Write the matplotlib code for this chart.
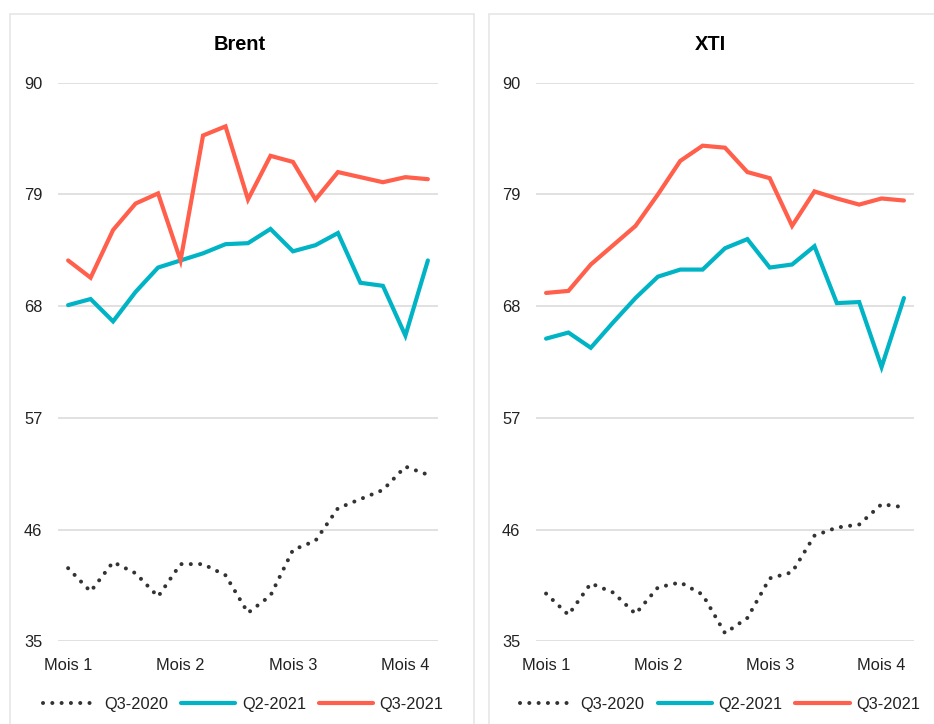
import matplotlib
matplotlib.use("Agg")
import matplotlib.pyplot as plt
from matplotlib.patches import Rectangle

plt.rcParams['font.family'] = ['Liberation Sans', 'DejaVu Sans']

# ---- data ----
months = ["Mois 1", "Mois 2", "Mois 3", "Mois 4"]
month_idx = [0, 5, 10, 15]
y_ticks = [35, 46, 57, 68, 79, 90]
series_names = ["Q3-2020", "Q2-2021", "Q3-2021"]

brent_q3_2020 = [42.2, 39.9, 42.8, 41.7, 39.4, 42.6, 42.6, 41.5, 37.8, 39.5,
                 44.0, 44.9, 48.1, 49.0, 49.9, 52.2, 51.4]
brent_q2_2021 = [68.1, 68.7, 66.5, 69.4, 71.8, 72.5, 73.2, 74.1, 74.2, 75.6,
                 73.4, 74.0, 75.2, 70.3, 70.0, 65.1, 72.5]
brent_q3_2021 = [72.5, 70.8, 75.5, 78.1, 79.1, 72.5, 84.8, 85.7, 78.5, 82.8,
                 82.2, 78.5, 81.2, 80.7, 80.2, 80.7, 80.5]

xti_q3_2020 = [39.7, 37.6, 40.7, 39.8, 37.7, 40.3, 40.8, 39.6, 35.8, 37.3,
               41.2, 41.8, 45.4, 46.2, 46.5, 48.5, 48.2]
xti_q2_2021 = [64.8, 65.4, 63.9, 66.4, 68.8, 70.9, 71.6, 71.6, 73.7, 74.6,
               71.8, 72.1, 73.9, 68.3, 68.4, 62.0, 68.8]
xti_q3_2021 = [69.3, 69.5, 72.1, 74.0, 75.9, 79.0, 82.3, 83.8, 83.6, 81.2,
               80.6, 75.9, 79.3, 78.6, 78.0, 78.6, 78.4]

panels = [
    ("Brent", [brent_q3_2020, brent_q2_2021, brent_q3_2021]),
    ("XTI", [xti_q3_2020, xti_q2_2021, xti_q3_2021]),
]

# ---- style ----
colors = ["#333333", "#00B4C5", "#FF5F4B"]
W, H = 934, 724
fig = plt.figure(figsize=(W / 100, H / 100), dpi=100)
fig.patch.set_facecolor("white")

axes_px = [(58, 438), (536, 914)]  # left/right in px
top_px, bot_px = 82.7, 641.3
title_x = [239.5, 710]
legend_x = [243.5, 720]
frames = [(10, 474.3), (488.7, 1000)]

for (fx0, fx1) in frames:
    r = Rectangle((fx0 / W, -0.1), (fx1 - fx0) / W, (H - 14) / H + 0.1,
                  transform=fig.transFigure, fill=False,
                  edgecolor="#e6e6e6", linewidth=1.2, clip_on=False)
    fig.add_artist(r)

for i, (title, data) in enumerate(panels):
    x0, x1 = axes_px[i]
    ax = fig.add_axes([x0 / W, 1 - bot_px / H, (x1 - x0) / W, (bot_px - top_px) / H])
    ax.set_facecolor("none")
    xs = list(range(len(data[0])))
    # Q3-2020 dotted
    ax.plot(xs, data[0], color=colors[0], linewidth=2.9,
            linestyle=(0, (0.01, 2.3)), dash_capstyle="round",
            label=series_names[0], zorder=3)
    ax.plot(xs, data[1], color=colors[1], linewidth=3.0,
            solid_capstyle="round", solid_joinstyle="miter",
            label=series_names[1], zorder=4)
    ax.plot(xs, data[2], color=colors[2], linewidth=3.0,
            solid_capstyle="round", solid_joinstyle="miter",
            label=series_names[2], zorder=5)

    ax.set_ylim(35, 90)
    ax.set_xlim(-0.45, 16.45)
    ax.set_yticks(y_ticks)
    ax.set_yticklabels([str(v) for v in y_ticks])
    ax.set_xticks(month_idx)
    ax.set_xticklabels(months)
    ax.grid(axis="y", color="#d9d9d9", linewidth=1.1, zorder=0)
    ax.set_axisbelow(True)
    for s in ax.spines.values():
        s.set_visible(False)
    ax.tick_params(axis="y", length=0, pad=24.5, labelsize=11.8, labelcolor="#222222")
    ax.tick_params(axis="x", length=0, pad=12, labelsize=11.8, labelcolor="#222222")
    for lab in ax.get_yticklabels():
        lab.set_horizontalalignment("left")

    fig.text(title_x[i] / W, 1 - 44.5 / H, title, ha="center", va="center",
             fontsize=14.4, fontweight="bold", color="black")

    ax.legend(loc="center", bbox_to_anchor=(legend_x[i] / W, 1 - 704.5 / H),
              bbox_transform=fig.transFigure, ncol=3, frameon=False,
              fontsize=11.8, handlelength=3.3, handletextpad=0.4,
              columnspacing=0.8, borderpad=0, labelcolor="#222222")

fig.savefig("out.png", dpi=100, facecolor="white")
